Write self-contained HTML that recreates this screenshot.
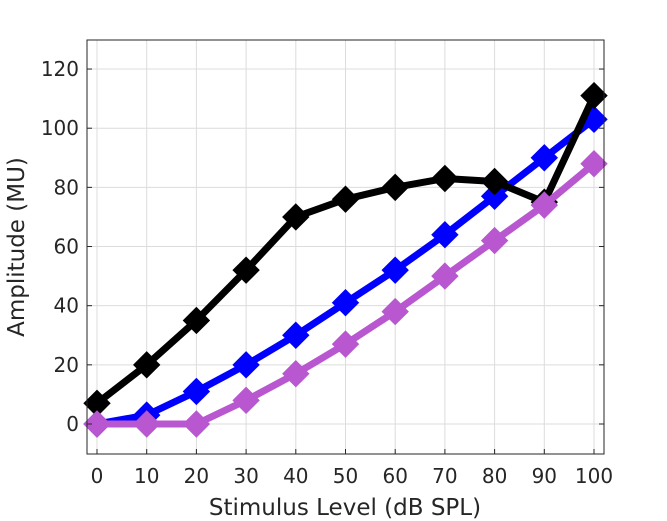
<!DOCTYPE html>
<html><head><meta charset="utf-8"><style>body{margin:0;background:#fff}svg{display:block;font-family:"DejaVu Sans","Liberation Sans",sans-serif}</style></head>
<body>
<svg id="chart" width="667" height="521" viewBox="0 0 667 521" xmlns="http://www.w3.org/2000/svg">
<rect width="667" height="521" fill="#fff"/>
<g id="grid"></g>
<g id="series"></g>
<rect x="87" y="40" width="517" height="414" fill="none" stroke="#262626" stroke-width="1"/>
<g id="ticks" font-size="20" fill="#262626"></g>
<text x="345" y="515" text-anchor="middle" font-size="23" fill="#262626">Stimulus Level (dB SPL)</text>
<text transform="translate(24,247) rotate(-90)" text-anchor="middle" font-size="23" fill="#262626">Amplitude (MU)</text>
</svg>
<script>
const xValues=[0,10,20,30,40,50,60,70,80,90,100];
const blackValues=[7,20,35,52,70,76,80,83,82,75,111];
const blueValues=[0,3,11,20,30,41,52,64,77,90,103];
const purpleValues=[0,0,0,8,17,27,38,50,62,74,88];
const xTicks=[0,10,20,30,40,50,60,70,80,90,100];
const yTicks=[0,20,40,60,80,100,120];
const NS="http://www.w3.org/2000/svg";
function sx(v){return 97+(v)*4.97;}
function sy(v){return 424-v*2.958;}
function mk(t,a,p){const e=document.createElementNS(NS,t);for(const k in a)e.setAttribute(k,a[k]);p.appendChild(e);return e;}
const grid=document.getElementById('grid'),ticks=document.getElementById('ticks'),series=document.getElementById('series');
xTicks.forEach(v=>{
 const g=mk('line',{x1:sx(v),x2:sx(v),y1:40,y2:454,stroke:'#dcdcdc','stroke-width':1},grid);
 
 
 const t1=mk('line',{x1:sx(v),x2:sx(v),y1:454,y2:449,stroke:'#262626'},ticks);
 
 
 const l=mk('text',{x:sx(v),y:483,'text-anchor':'middle'},ticks);l.textContent=v;
 
 
});
yTicks.forEach(v=>{
 const g=mk('line',{x1:87,x2:604,y1:sy(v),y2:sy(v),stroke:'#dcdcdc','stroke-width':1},grid);
 
 
 const t1=mk('line',{x1:87,x2:92,y1:sy(v),y2:sy(v),stroke:'#262626'},ticks);
 
 
 const t2=mk('line',{x1:604,x2:599,y1:sy(v),y2:sy(v),stroke:'#262626'},ticks);
 
 
 const l=mk('text',{x:79,y:sy(v)+7,'text-anchor':'end'},ticks);l.textContent=v;
 
 
});
function drawSeries(vals,color,name){
 const g=mk('g',{},series);
 
 
 const pts=vals.map((v,i)=>sx(xValues[i])+','+sy(v)).join(' ');
 const pl=mk('polyline',{points:pts,fill:'none',stroke:color,'stroke-width':7,'stroke-linejoin':'round'},g);
 
 
 vals.forEach((v,i)=>{
  const x=sx(xValues[i]),y=sy(v),r=13;
  const d=mk('polygon',{points:`${x},${y-r} ${x+r},${y} ${x},${y+r} ${x-r},${y}`,fill:color,stroke:color,'stroke-width':1},g);
  
  
 });
}
drawSeries(blueValues,'#0000ff','blue-series');
drawSeries(blackValues,'#000000','black-series');
drawSeries(purpleValues,'#b857d0','purple-series');
</script>
</body></html>
